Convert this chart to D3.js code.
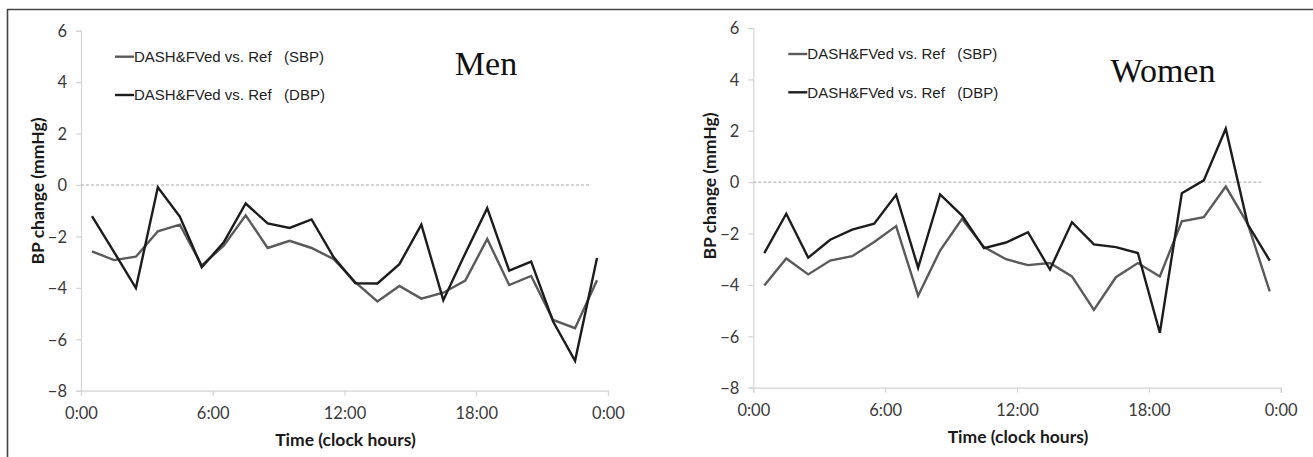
<!DOCTYPE html>
<html>
<head>
<meta charset="utf-8">
<script src="https://cdn.jsdelivr.net/npm/d3@7"></script>
<style>
  body { margin: 0; background: #fff; }
  svg { display: block; }
  .tick text { font-family: Lato, "Open Sans", sans-serif; font-size: 16.5px; fill: #3a3a3a; }
  .axis-title { font-family: Lato, sans-serif; font-weight: bold; font-size: 17.5px; fill: #1a1a1a; }
  .legend text { font-family: "Liberation Sans", Arial, sans-serif; font-size: 15px; fill: #222; white-space: pre; }
  .panel-title { font-family: "Liberation Serif", "Times New Roman", serif; font-size: 34px; fill: #111; }
</style>
</head>
<body>
<svg id="chart"></svg>
<script>
// clock hours (mid-hour points)
const hours = [0.5, 1.5, 2.5, 3.5, 4.5, 5.5, 6.5, 7.5, 8.5, 9.5, 10.5, 11.5,
               12.5, 13.5, 14.5, 15.5, 16.5, 17.5, 18.5, 19.5, 20.5, 21.5, 22.5, 23.5];

const menSBP = [-2.58, -2.92, -2.79, -1.80, -1.54, -3.13, -2.36, -1.18, -2.45, -2.17, -2.45, -2.88,
                -3.79, -4.53, -3.93, -4.42, -4.19, -3.72, -2.10, -3.89, -3.54, -5.25, -5.57, -3.70];
const menDBP = [-1.21, -2.60, -4.01, -0.09, -1.23, -3.20, -2.23, -0.72, -1.49, -1.67, -1.34, -2.80,
                -3.82, -3.83, -3.08, -1.54, -4.48, -2.66, -0.90, -3.33, -2.98, -5.31, -6.84, -2.84];

const womenSBP = [-4.02, -2.97, -3.59, -3.05, -2.88, -2.33, -1.71, -4.42, -2.66, -1.43, -2.53, -3.00,
                  -3.23, -3.15, -3.67, -4.97, -3.70, -3.15, -3.67, -1.52, -1.36, -0.17, -1.62, -4.25];
const womenDBP = [-2.76, -1.23, -2.94, -2.24, -1.85, -1.62, -0.49, -3.33, -0.48, -1.30, -2.57, -2.35,
                  -1.95, -3.40, -1.56, -2.42, -2.53, -2.76, -5.86, -0.43, 0.07, 2.08, -1.64, -3.05];

const xTicks = [0, 6, 12, 18, 24];
const yTicks = [-8, -6, -4, -2, 0, 2, 4, 6];
const seriesNames = ['DASH&FVed vs. Ref   (SBP)', 'DASH&FVed vs. Ref   (DBP)'];
const zeroLineEnd = 23.2;

const W = 1313, H = 457;
const colors = ['#5a5a5a', '#1c1c1c'];

const svg = d3.select('#chart').attr('width', W).attr('height', H);

// outer frame (top + left edges visible)
svg.append('path')
    .attr('d', `M7.5,${H} V9.5 H${W}`)
    .attr('fill', 'none')
    .attr('stroke', '#444')
    .attr('stroke-width', 1.6);

const panels = [
    { title: 'Men', sbp: menSBP, dbp: menDBP,
      left: 81, right: 608, top: 30.7, bottom: 390.7,
      titleX: 486, titleY: 75, legendX: 115, legendY: [56.7, 95], yTitleY: 191 },
    { title: 'Women', sbp: womenSBP, dbp: womenDBP,
      left: 753.3, right: 1280.7, top: 28, bottom: 387.7,
      titleX: 1163, titleY: 82, legendX: 788.3, legendY: [54, 92.3], yTitleY: 186 }
];

panels.forEach(p => drawPanel(p));

function drawPanel(p) {
    const g = svg.append('g');

    const x = d3.scaleLinear().domain([0, 24]).range([p.left, p.right]);
    const y = d3.scaleLinear().domain([-8, 6]).range([p.bottom, p.top]);

    // y axis
    const yAxisG = g.append('g')
        .attr('transform', `translate(${p.left},0)`)
        .call(d3.axisLeft(y).tickValues(yTicks).tickSize(5).tickPadding(9).tickFormat(d3.format('d')));
    // x axis
    const xAxisG = g.append('g')
        .attr('transform', `translate(0,${p.bottom})`)
        .call(d3.axisBottom(x).tickValues(xTicks).tickSize(5).tickPadding(12)
            .tickFormat(d => `${d % 24}:00`));

    [yAxisG, xAxisG].forEach(a => {
        a.select('.domain').attr('stroke', '#d4d4d4').attr('stroke-width', 1.2);
        a.selectAll('.tick line').attr('stroke', '#d4d4d4').attr('stroke-width', 1.2);
    });
    yAxisG.selectAll('.tick text').attr('dy', '0.35em');

    // dashed zero reference
    g.append('line')
        .attr('x1', x(0)).attr('x2', x(zeroLineEnd))
        .attr('y1', y(0)).attr('y2', y(0))
        .attr('stroke', '#a8a8a8')
        .attr('stroke-width', 1)
        .attr('stroke-dasharray', '3,2');

    const line = d3.line()
        .x((d, i) => x(hours[i]))
        .y(d => y(d));

    [p.sbp, p.dbp].forEach((vals, i) => {
        g.append('path')
            .datum(vals)
            .attr('fill', 'none')
            .attr('stroke', colors[i])
            .attr('stroke-width', 2.4)
            .attr('stroke-linejoin', 'miter')
            .attr('d', line);
    });

    // axis titles
    g.append('text')
        .attr('class', 'axis-title')
        .attr('text-anchor', 'middle')
        .attr('dy', '0.35em')
        .attr('transform', `translate(${p.left - 43},${p.yTitleY}) rotate(-90)`)
        .text('BP change (mmHg)');

    g.append('text')
        .attr('class', 'axis-title')
        .attr('text-anchor', 'middle')
        .attr('x', (p.left + p.right) / 2 + 1)
        .attr('y', p.bottom + 55)
        .text('Time (clock hours)');

    // legend
    const legend = g.append('g').attr('class', 'legend');
    seriesNames.forEach((name, i) => {
        legend.append('line')
            .attr('x1', p.legendX).attr('x2', p.legendX + 19)
            .attr('y1', p.legendY[i]).attr('y2', p.legendY[i])
            .attr('stroke', colors[i])
            .attr('stroke-width', 2.4);
        legend.append('text')
            .attr('x', p.legendX + 19)
            .attr('y', p.legendY[i])
            .attr('dy', '0.36em')
            .text(name);
    });

    g.append('text')
        .attr('class', 'panel-title')
        .attr('text-anchor', 'middle')
        .attr('x', p.titleX)
        .attr('y', p.titleY)
        .text(p.title);
}
</script>
</body>
</html>
